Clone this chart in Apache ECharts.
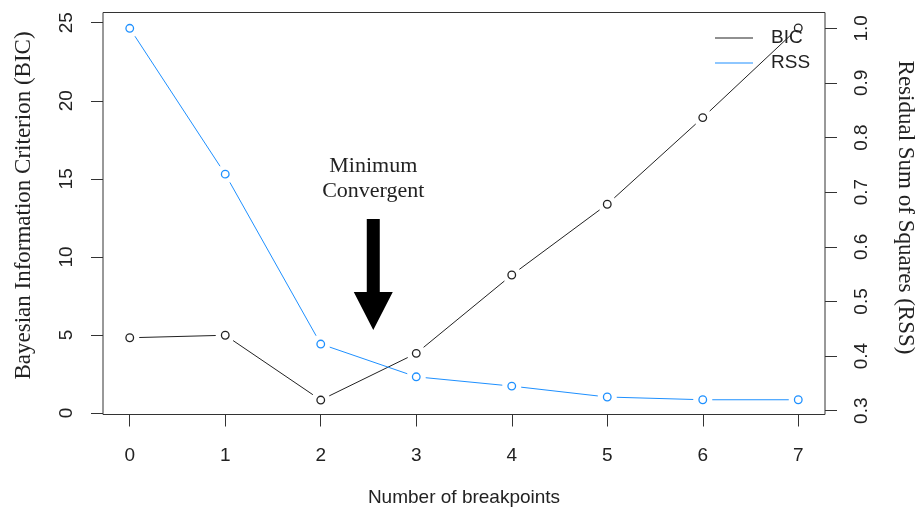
<!DOCTYPE html>
<html>
<head>
<meta charset="utf-8">
<script src="https://cdn.jsdelivr.net/npm/echarts@6/dist/echarts.min.js"></script>
<style>
  html, body { margin: 0; padding: 0; background: #fff; }
  #chart { width: 921px; height: 515px; }
</style>
</head>
<body>
<div id="chart"></div>
<script>
// Model selection over the number of breakpoints
const breakpoints = [0, 1, 2, 3, 4, 5, 6, 7];
const bicValues = [4.82, 4.98, 0.83, 3.82, 8.84, 13.37, 18.92, 24.66];
const rssValues = [1.0, 0.733, 0.422, 0.362, 0.345, 0.325, 0.320, 0.320];
const bicTicks = [0, 5, 10, 15, 20, 25];
const rssTicks = [0.3, 0.4, 0.5, 0.6, 0.7, 0.8, 0.9, 1.0];
// Annotation: label and arrow placed in (breakpoints, BIC) coordinates
const noteText = ['Minimum', 'Convergent'];
const noteX = 2.55;
const noteTextY = 15.0;
const arrowTopY = 12.43;
const arrowTipY = 5.32;

const BIC_COLOR = '#222222';
const RSS_COLOR = '#1E90FF';
const SANS = '"Liberation Sans", Arial, sans-serif';
const SERIF = '"Liberation Serif", "Times New Roman", serif';

const MARK_R = 3.8;   // open circle radius (px)
const GAP_R = 9.5;    // line stops this far from each point (px)

const pairs = (xs, ys) => xs.map((x, i) => [x, ys[i]]);

const chart = echarts.init(document.getElementById('chart'), null, { renderer: 'canvas' });

// "both" style: open circles joined by segments that stop short of the points
function pointsAndLines(name, values, color, yIdx) {
  return {
    name: name,
    type: 'custom',
    yAxisIndex: yIdx,
    data: pairs(breakpoints, values),
    itemStyle: { color: color },
    encode: { x: 0, y: 1 },
    clip: false,
    silent: true,
    animation: false,
    renderItem: function (params, api) {
      const i = params.dataIndex;
      const p = api.coord([api.value(0), api.value(1)]);
      const children = [];
      if (i < breakpoints.length - 1) {
        const q = api.coord([breakpoints[i + 1], values[i + 1]]);
        const dx = q[0] - p[0], dy = q[1] - p[1];
        const len = Math.sqrt(dx * dx + dy * dy);
        if (len > 2 * GAP_R) {
          const ux = dx / len, uy = dy / len;
          children.push({
            type: 'line',
            shape: {
              x1: p[0] + ux * GAP_R, y1: p[1] + uy * GAP_R,
              x2: q[0] - ux * GAP_R, y2: q[1] - uy * GAP_R
            },
            style: { stroke: color, lineWidth: 1 }
          });
        }
      }
      children.push({
        type: 'circle',
        shape: { cx: p[0], cy: p[1], r: MARK_R },
        style: { fill: '#ffffff', stroke: color, lineWidth: 1.3 },
        z2: 5
      });
      return { type: 'group', children: children };
    }
  };
}

const tickStyle = { show: true, length: 12, lineStyle: { color: '#333', width: 1 } };

chart.setOption({
  animation: false,
  backgroundColor: '#ffffff',
  grid: {
    left: 103, right: 96, top: 12.5, bottom: 100.5,
    outerBoundsMode: 'none',
    containLabel: false,
    show: true, borderColor: '#333', borderWidth: 1, backgroundColor: 'transparent'
  },
  legend: {
    data: [{ name: 'BIC', icon: 'rect' }, { name: 'RSS', icon: 'rect' }],
    orient: 'vertical',
    left: 710, top: 23,
    itemWidth: 38, itemHeight: 1, itemGap: 5,
    textStyle: { fontFamily: SANS, fontSize: 19, color: '#222', lineHeight: 20, padding: [0, 0, 0, 13] },
    selectedMode: false
  },
  xAxis: {
    type: 'value',
    min: -0.28, max: 7.28,
    name: 'Number of breakpoints',
    nameLocation: 'middle',
    nameGap: 74,
    nameTextStyle: { fontFamily: SANS, fontSize: 19, color: '#222' },
    axisLine: { show: false, onZero: false },
    axisTick: Object.assign({ customValues: breakpoints }, tickStyle),
    axisLabel: { customValues: breakpoints, fontFamily: SANS, fontSize: 19, color: '#222', margin: 32 },
    splitLine: { show: false }
  },
  yAxis: [
    {
      type: 'value',
      position: 'left',
      min: -0.096, max: 25.653,
      name: 'Bayesian Information Criterion (BIC)',
      nameLocation: 'middle',
      nameRotate: 90,
      nameGap: 68,
      nameTextStyle: { fontFamily: SERIF, fontSize: 23, color: '#222', padding: [0, 0, 0, 16] },
      axisLine: { show: false, onZero: false },
      axisTick: Object.assign({ customValues: bicTicks }, tickStyle),
      axisLabel: { customValues: bicTicks, rotate: 90, fontFamily: SANS, fontSize: 19, color: '#222', margin: 27 },
      splitLine: { show: false }
    },
    {
      type: 'value',
      position: 'right',
      min: 0.293, max: 1.0289,
      name: 'Residual Sum of Squares (RSS)',
      nameLocation: 'middle',
      nameRotate: -90,
      nameGap: 69,
      nameTextStyle: { fontFamily: SERIF, fontSize: 23, color: '#222', padding: [0, 12, 0, 0] },
      axisLine: { show: false, onZero: false },
      axisTick: Object.assign({ customValues: rssTicks }, tickStyle),
      axisLabel: {
        customValues: rssTicks, rotate: 90, fontFamily: SANS, fontSize: 19, color: '#222', margin: 27,
        formatter: v => v.toFixed(1)
      },
      splitLine: { show: false }
    }
  ],
  series: [
    pointsAndLines('BIC', bicValues, BIC_COLOR, 0),
    pointsAndLines('RSS', rssValues, RSS_COLOR, 1)
  ]
});

// Arrow and caption pointing at the minimum
function drawNote() {
  const toPx = (x, y) => chart.convertToPixel({ xAxisIndex: 0, yAxisIndex: 0 }, [x, y]);
  const top = toPx(noteX, arrowTopY);
  const tip = toPx(noteX, arrowTipY);
  const label = toPx(noteX, noteTextY);
  const shaftHalf = 6.5, headHalf = 19.5, headLen = 38;
  const cx = tip[0];
  const headBase = tip[1] - headLen;
  chart.setOption({
    graphic: [
      {
        type: 'polygon',
        shape: {
          points: [
            [cx - shaftHalf, top[1]], [cx + shaftHalf, top[1]],
            [cx + shaftHalf, headBase], [cx + headHalf, headBase],
            [cx, tip[1]],
            [cx - headHalf, headBase], [cx - shaftHalf, headBase]
          ]
        },
        style: { fill: '#000' },
        z: 10
      },
      {
        type: 'text',
        x: label[0], y: label[1],
        style: {
          text: noteText.join('\n'),
          fontFamily: SERIF, fontSize: 22, lineHeight: 25,
          fill: '#222', align: 'center', verticalAlign: 'middle'
        },
        z: 10
      }
    ]
  });
}
drawNote();
</script>
</body>
</html>
